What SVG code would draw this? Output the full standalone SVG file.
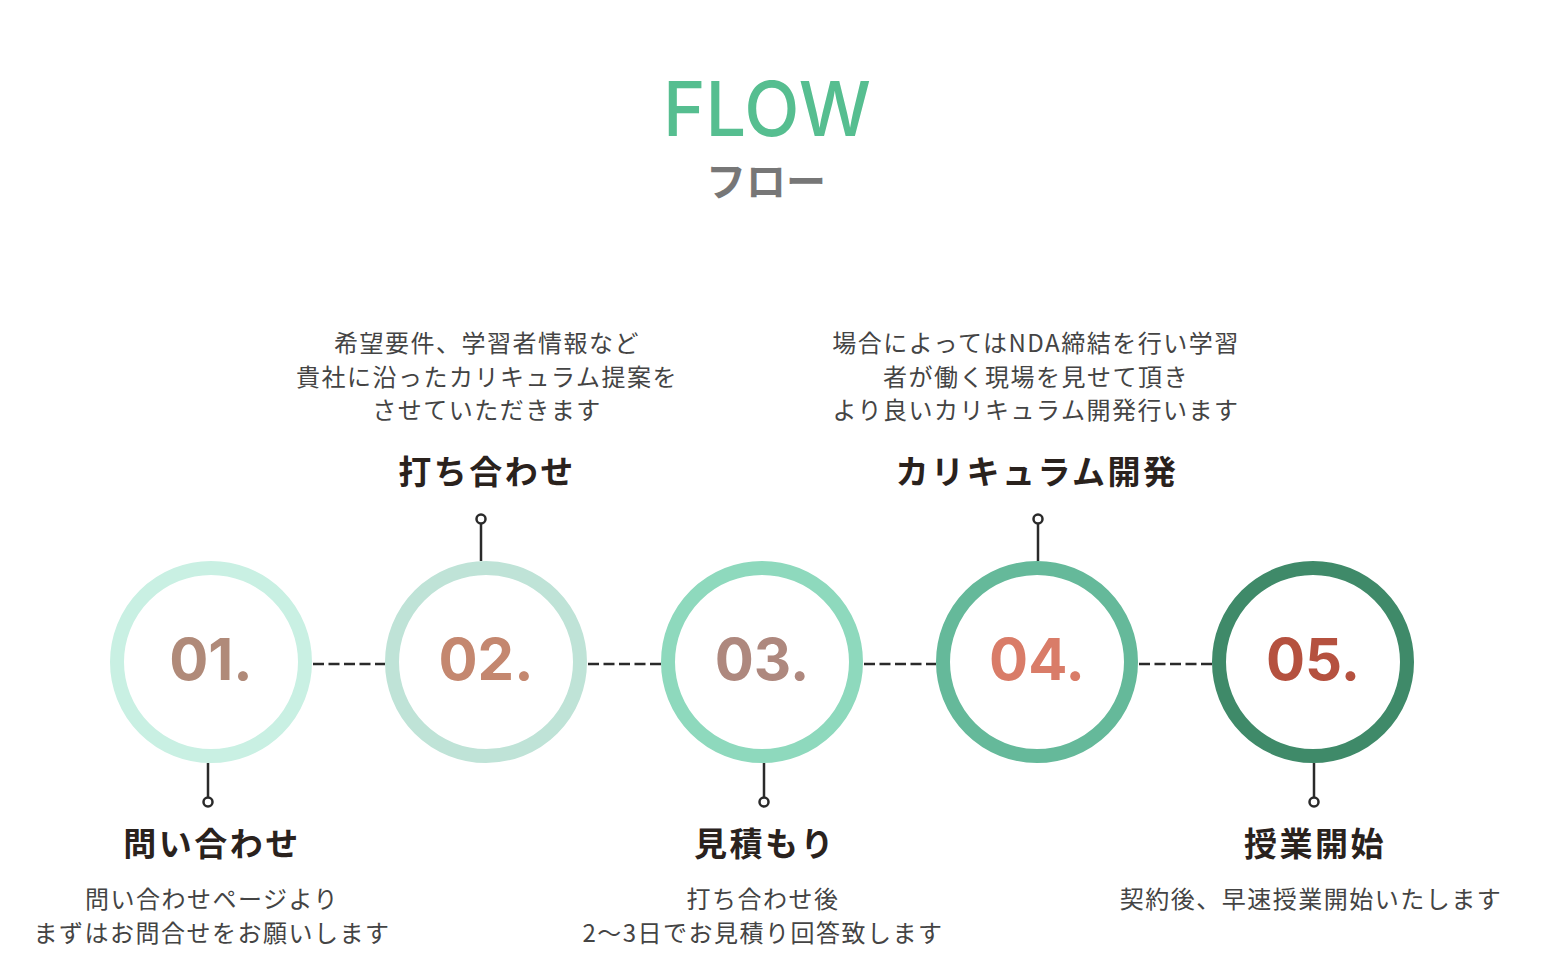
<svg xmlns="http://www.w3.org/2000/svg" width="1548" height="974" viewBox="0 0 1548 974">
<style>
.jp{font-family:"Noto Sans CJK JP","Noto Sans",sans-serif;}
.desc{font-size:24px;fill:#444;letter-spacing:1.5px;text-anchor:middle;}
.title{font-size:33px;font-weight:700;fill:#2a221d;letter-spacing:2.5px;text-anchor:middle;}
.num{font-family:Inter,"Liberation Sans",sans-serif;font-size:58px;font-weight:700;text-anchor:middle;}
.ring{fill:#fff;stroke-width:14;}
.stem{stroke:#2a2a2a;stroke-width:2.5;fill:none;}
.pin{stroke:#2a2a2a;stroke-width:2.5;fill:#fff;}
.dash{stroke:#2a2a2a;stroke-width:2.5;stroke-dasharray:11 4.5;fill:none;}
</style>
<rect width="1548" height="974" fill="#fff"/>
<g id="header">
<text x="767" y="136" font-family="Inter,'Liberation Sans',sans-serif" font-size="76" font-weight="500" fill="#56BE90" text-anchor="middle" textLength="208" lengthAdjust="spacingAndGlyphs">FLOW</text>
<text class="jp" x="766" y="196" font-size="40" font-weight="700" fill="#777" text-anchor="middle">フロー</text>
</g>
<g id="connectors">
<line class="dash" x1="313" y1="664" x2="385" y2="664"/>
<line class="dash" x1="588" y1="664" x2="661" y2="664"/>
<line class="dash" x1="864" y1="664" x2="936" y2="664"/>
<line class="dash" x1="1139" y1="664" x2="1212" y2="664"/>
<line class="stem" x1="208" y1="763" x2="208" y2="797"/>
<circle class="pin" cx="208" cy="802" r="4.5"/>
<line class="stem" x1="481" y1="561" x2="481" y2="524"/>
<circle class="pin" cx="481" cy="519" r="4.5"/>
<line class="stem" x1="764" y1="763" x2="764" y2="797"/>
<circle class="pin" cx="764" cy="802" r="4.5"/>
<line class="stem" x1="1038" y1="561" x2="1038" y2="524"/>
<circle class="pin" cx="1038" cy="519" r="4.5"/>
<line class="stem" x1="1314" y1="763" x2="1314" y2="797"/>
<circle class="pin" cx="1314" cy="802" r="4.5"/>
</g>
<g id="step1">
<circle class="ring" cx="211" cy="662" r="94" stroke="#C9F0E3"/>
<text class="num" x="211" y="680" fill="#B08A79">01.</text>
<text class="jp title" x="212" y="856">問い合わせ</text>
<text class="jp desc" x="212" y="908">問い合わせページより</text>
<text class="jp desc" x="212" y="942">まずはお問合せをお願いします</text>
</g>
<g id="step2">
<circle class="ring" cx="486" cy="662" r="94" stroke="#BFE3D7"/>
<text class="num" x="486" y="680" fill="#C4876F">02.</text>
<text class="jp title" x="487" y="484">打ち合わせ</text>
<text class="jp desc" x="487" y="352">希望要件、学習者情報など</text>
<text class="jp desc" x="487" y="386">貴社に沿ったカリキュラム提案を</text>
<text class="jp desc" x="487" y="419">させていただきます</text>
</g>
<g id="step3">
<circle class="ring" cx="762" cy="662" r="94" stroke="#8ED9BD"/>
<text class="num" x="762" y="680" fill="#AE887E">03.</text>
<text class="jp title" x="765" y="856">見積もり</text>
<text class="jp desc" x="763" y="908">打ち合わせ後</text>
<text class="jp desc" x="763" y="942">2〜3日でお見積り回答致します</text>
</g>
<g id="step4">
<circle class="ring" cx="1037" cy="662" r="94" stroke="#65B99A"/>
<text class="num" x="1037" y="680" fill="#D97C68">04.</text>
<text class="jp title" x="1037" y="484">カリキュラム開発</text>
<text class="jp desc" x="1036" y="352">場合によってはNDA締結を行い学習</text>
<text class="jp desc" x="1036" y="386">者が働く現場を見せて頂き</text>
<text class="jp desc" x="1036" y="419">より良いカリキュラム開発行います</text>
</g>
<g id="step5">
<circle class="ring" cx="1313" cy="662" r="94" stroke="#3F8A69"/>
<text class="num" x="1313" y="680" fill="#B5513F">05.</text>
<text class="jp title" x="1315" y="856">授業開始</text>
<text class="jp desc" x="1311" y="908">契約後、早速授業開始いたします</text>
</g>
</svg>
